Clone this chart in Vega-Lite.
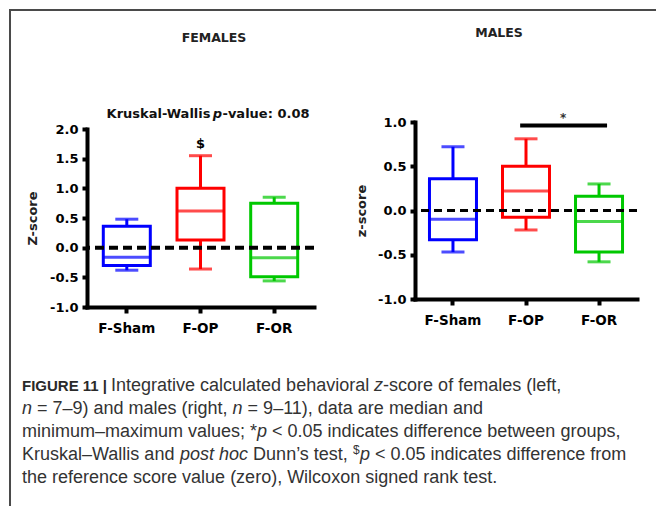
{
  "$schema": "https://vega.github.io/schema/vega-lite/v6.json",
  "padding": {"left": 8, "top": 8, "right": 0, "bottom": 0},
  "background": "white",
  "bounds": "flush",
  "spacing": 101,
  "config": {
    "view": {"stroke": null},
    "axis": {
      "domainColor": "black", "domainWidth": 4, "domainCap": "square",
      "tickColor": "black", "tickWidth": 4, "grid": false, "labelOverlap": false,
      "labelFont": "DejaVu Sans", "labelFontWeight": "bold", "labelColor": "black",
      "titleFont": "DejaVu Sans", "titleFontWeight": "bold", "titleColor": "#222"
    },
    "text": {"font": "Liberation Sans", "fontSize": 18, "color": "#333", "align": "left", "baseline": "middle"}
  },
  "datasets": {
    "females": [
      {"g": "F-Sham", "min": -0.38, "q1": -0.30, "med": -0.16, "q3": 0.36, "max": 0.48},
      {"g": "F-OP", "min": -0.36, "q1": 0.13, "med": 0.62, "q3": 1.0, "max": 1.55},
      {"g": "F-OR", "min": -0.56, "q1": -0.49, "med": -0.17, "q3": 0.75, "max": 0.85}
    ],
    "males": [
      {"g": "F-Sham", "min": -0.47, "q1": -0.33, "med": -0.10, "q3": 0.36, "max": 0.72},
      {"g": "F-OP", "min": -0.22, "q1": -0.075, "med": 0.22, "q3": 0.50, "max": 0.81},
      {"g": "F-OR", "min": -0.58, "q1": -0.47, "med": -0.125, "q3": 0.16, "max": 0.30}
    ]
  },
  "hconcat": [
    {
      "width": 227,
      "height": 185,
      "layer": [
        {
          "data": {"name": "females"},
          "layer": [
            {
              "mark": {"type": "rule", "strokeWidth": 3},
              "encoding": {
                "x": {"field": "g", "type": "nominal", "scale": {"domain": ["F-Sham", "F-OP", "F-OR"], "paddingInner": 0, "paddingOuter": 0.04},
                      "axis": {"title": null, "labelAngle": 0, "tickSize": 6, "labelPadding": 8, "labelFontSize": 13.5}},
                "y": {"field": "min", "type": "quantitative", "scale": {"domain": [-1, 2], "range": [185, 7], "nice": false, "zero": false},
                      "axis": {"title": "Z-score", "values": [-1, -0.5, 0, 0.5, 1, 1.5, 2], "tickCount": 10, "tickSize": 5, "labelPadding": 4, "labelFontSize": 13, "titleFontSize": 13, "titlePadding": 10,
                               "labelExpr": "replace(format(datum.value, '.1f'), '−', '-')"}},
                "y2": {"field": "max"},
                "color": {"field": "g", "type": "nominal", "scale": {"domain": ["F-Sham", "F-OP", "F-OR"], "range": ["#0000ff", "#ff0000", "#00c800"]}, "legend": null}
              }
            },
            {
              "mark": {"type": "bar", "size": 47, "fill": "white", "strokeWidth": 3},
              "encoding": {
                "x": {"field": "g", "type": "nominal"},
                "y": {"field": "q1", "type": "quantitative"},
                "y2": {"field": "q3"},
                "stroke": {"field": "g", "type": "nominal", "scale": {"domain": ["F-Sham", "F-OP", "F-OR"], "range": ["#0000ff", "#ff0000", "#00c800"]}, "legend": null}
              }
            },
            {
              "mark": {"type": "tick", "size": 47, "thickness": 3},
              "encoding": {
                "x": {"field": "g", "type": "nominal"},
                "y": {"field": "med", "type": "quantitative"},
                "color": {"field": "g", "type": "nominal", "legend": null}
              }
            },
            {
              "mark": {"type": "tick", "size": 23, "thickness": 3},
              "encoding": {
                "x": {"field": "g", "type": "nominal"},
                "y": {"field": "min", "type": "quantitative"},
                "color": {"field": "g", "type": "nominal", "legend": null}
              }
            },
            {
              "mark": {"type": "tick", "size": 23, "thickness": 3},
              "encoding": {
                "x": {"field": "g", "type": "nominal"},
                "y": {"field": "max", "type": "quantitative"},
                "color": {"field": "g", "type": "nominal", "legend": null}
              }
            },
            {
              "data": {"values": [{}]},
              "mark": {"type": "rule", "strokeDash": [9, 5], "strokeWidth": 4, "color": "black"},
              "encoding": {"y": {"datum": 0, "type": "quantitative"}}
            },
            {
              "data": {"values": [{}]},
              "mark": {"type": "text", "text": "$", "font": "DejaVu Sans", "fontWeight": "bold", "fontSize": 13, "color": "black", "align": "center"},
              "encoding": {"x": {"datum": "F-OP", "type": "nominal"}, "y": {"datum": 1.74, "type": "quantitative"}}
            },
            {
              "data": {"values": [{}]},
              "mark": {"type": "text", "text": "Kruskal-Wallis", "font": "DejaVu Sans", "fontWeight": "bold", "fontSize": 13, "color": "#111", "align": "right", "dx": 10},
              "encoding": {"x": {"datum": "F-OP", "type": "nominal"}, "y": {"datum": 2.25, "type": "quantitative"}}
            },
            {
              "data": {"values": [{}]},
              "mark": {"type": "text", "text": "p", "font": "DejaVu Sans", "fontWeight": "bold", "fontStyle": "italic", "fontSize": 13, "color": "#111", "align": "center", "dx": 17},
              "encoding": {"x": {"datum": "F-OP", "type": "nominal"}, "y": {"datum": 2.25, "type": "quantitative"}}
            },
            {
              "data": {"values": [{}]},
              "mark": {"type": "text", "text": "-value: 0.08", "font": "DejaVu Sans", "fontWeight": "bold", "fontSize": 13, "color": "#111", "align": "left", "dx": 22},
              "encoding": {"x": {"datum": "F-OP", "type": "nominal"}, "y": {"datum": 2.25, "type": "quantitative"}}
            }
          ]
        },
        {
          "layer": [
            {
              "encoding": {
                "x": {"datum": -0.2863, "type": "quantitative", "scale": {"domain": [0, 1], "nice": false, "zero": false}, "axis": null},
                "y": {"field": "line", "type": "quantitative", "scale": {"domain": [-10.478, -2.435], "reverse": true, "nice": false, "zero": false}, "axis": null},
                "text": {"field": "text"}
              },
              "layer": [
                {"data": {"values": [{"line": 1, "text": "FIGURE 11 |"}]}, "mark": {"type": "text", "fontSize": 15, "fontWeight": "bold", "color": "#2a2a2a"}},
                {"data": {"values": [{"line": 1, "text": "Integrative calculated behavioral"}]}, "mark": {"type": "text", "dx": 89}},
                {"data": {"values": [{"line": 1, "text": "z"}]}, "mark": {"type": "text", "dx": 352.1, "fontStyle": "italic"}},
                {"data": {"values": [{"line": 1, "text": "-score of females (left,"}]}, "mark": {"type": "text", "dx": 361.1}},
                {"data": {"values": [{"line": 3, "text": "minimum–maximum values; *"}, {"line": 4, "text": "Kruskal–Wallis and"}, {"line": 5, "text": "the reference score value (zero), Wilcoxon signed rank test."}]}, "mark": {"type": "text"}},
                {"data": {"values": [{"line": 2, "text": "n"}]}, "mark": {"type": "text", "fontStyle": "italic"}},
                {"data": {"values": [{"line": 2, "text": "= 7–9) and males (right,"}]}, "mark": {"type": "text", "dx": 15.0}},
                {"data": {"values": [{"line": 2, "text": "n"}]}, "mark": {"type": "text", "dx": 210.6, "fontStyle": "italic"}},
                {"data": {"values": [{"line": 2, "text": "= 9–11), data are median and"}]}, "mark": {"type": "text", "dx": 225.6}},
                {"data": {"values": [{"line": 3, "text": "p"}]}, "mark": {"type": "text", "dx": 235.0, "fontStyle": "italic"}},
                {"data": {"values": [{"line": 3, "text": "< 0.05 indicates difference between groups,"}]}, "mark": {"type": "text", "dx": 250.0}},
                {"data": {"values": [{"line": 4, "text": "post hoc"}]}, "mark": {"type": "text", "dx": 158.0, "fontStyle": "italic"}},
                {"data": {"values": [{"line": 4, "text": "Dunn’s test,"}]}, "mark": {"type": "text", "dx": 231.1}},
                {"data": {"values": [{"line": 4, "text": "$"}]}, "mark": {"type": "text", "dx": 331.1, "dy": -5, "fontSize": 12}},
                {"data": {"values": [{"line": 4, "text": "p"}]}, "mark": {"type": "text", "dx": 338.0, "fontStyle": "italic"}},
                {"data": {"values": [{"line": 4, "text": "< 0.05 indicates difference from"}]}, "mark": {"type": "text", "dx": 353.0}}
              ]
            },
            {
              "data": {"values": [{}]},
              "mark": {"type": "text", "text": "FEMALES", "align": "center", "font": "DejaVu Sans", "fontSize": 12.5, "fontWeight": "bold", "color": "#222"},
              "encoding": {
                "x": {"datum": 0.5595, "type": "quantitative"},
                "y": {"datum": -14.13, "type": "quantitative"}
              }
            }
          ]
        }
      ],
      "resolve": {"scale": {"x": "independent", "y": "independent"}}
    },
    {
      "width": 222,
      "height": 177,
      "layer": [
        {
          "data": {"name": "males"},
          "layer": [
            {
              "mark": {"type": "rule", "strokeWidth": 3},
              "encoding": {
                "x": {"field": "g", "type": "nominal", "scale": {"domain": ["F-Sham", "F-OP", "F-OR"], "paddingInner": 0, "paddingOuter": 0.02},
                      "axis": {"title": null, "labelAngle": 0, "tickSize": 6, "labelPadding": 8, "labelFontSize": 13.5}},
                "y": {"field": "min", "type": "quantitative", "scale": {"domain": [-1, 1], "nice": false, "zero": false},
                      "axis": {"title": "z-score", "values": [-1, -0.5, 0, 0.5, 1], "tickCount": 10, "tickSize": 5, "labelPadding": 4, "labelFontSize": 13, "titleFontSize": 13, "titlePadding": 9,
                               "labelExpr": "replace(format(datum.value, '.1f'), '−', '-')"}},
                "y2": {"field": "max"},
                "color": {"field": "g", "type": "nominal", "scale": {"domain": ["F-Sham", "F-OP", "F-OR"], "range": ["#0000ff", "#ff0000", "#00c800"]}, "legend": null}
              }
            },
            {
              "mark": {"type": "bar", "size": 47, "fill": "white", "strokeWidth": 3},
              "encoding": {
                "x": {"field": "g", "type": "nominal"},
                "y": {"field": "q1", "type": "quantitative"},
                "y2": {"field": "q3"},
                "stroke": {"field": "g", "type": "nominal", "scale": {"domain": ["F-Sham", "F-OP", "F-OR"], "range": ["#0000ff", "#ff0000", "#00c800"]}, "legend": null}
              }
            },
            {
              "mark": {"type": "tick", "size": 47, "thickness": 3},
              "encoding": {
                "x": {"field": "g", "type": "nominal"},
                "y": {"field": "med", "type": "quantitative"},
                "color": {"field": "g", "type": "nominal", "legend": null}
              }
            },
            {
              "mark": {"type": "tick", "size": 23, "thickness": 3},
              "encoding": {
                "x": {"field": "g", "type": "nominal"},
                "y": {"field": "min", "type": "quantitative"},
                "color": {"field": "g", "type": "nominal", "legend": null}
              }
            },
            {
              "mark": {"type": "tick", "size": 23, "thickness": 3},
              "encoding": {
                "x": {"field": "g", "type": "nominal"},
                "y": {"field": "max", "type": "quantitative"},
                "color": {"field": "g", "type": "nominal", "legend": null}
              }
            },
            {
              "data": {"values": [{}]},
              "mark": {"type": "rule", "strokeDash": [8, 5], "strokeWidth": 3, "color": "black"},
              "encoding": {"y": {"datum": 0, "type": "quantitative"}}
            },
            {
              "data": {"values": [{}]},
              "mark": {"type": "rule", "strokeWidth": 4, "color": "black"},
              "encoding": {
                "x": {"datum": "F-OP", "type": "nominal", "bandPosition": 0.42},
                "x2": {"datum": "F-OR", "bandPosition": 0.61},
                "y": {"datum": 0.96, "type": "quantitative"}
              }
            },
            {
              "data": {"values": [{}]},
              "mark": {"type": "text", "text": "*", "font": "DejaVu Sans", "fontWeight": "bold", "fontSize": 12, "color": "#333", "align": "center"},
              "encoding": {"x": {"datum": "F-OR", "type": "nominal", "bandPosition": 0.01}, "y": {"datum": 1.04, "type": "quantitative"}}
            }
          ]
        },
        {
          "layer": [
            {
              "data": {"values": [{}]},
              "mark": {"type": "rule", "strokeWidth": 2, "color": "#4a4a4a", "strokeCap": "square"},
              "encoding": {
                "x": {"datum": -1.8243, "type": "quantitative", "scale": {"domain": [0, 1], "nice": false, "zero": false}, "axis": null},
                "x2": {"datum": 1.0811},
                "y": {"datum": 1.6328, "type": "quantitative", "scale": {"domain": [0, 1], "nice": false, "zero": false}, "axis": null}
              }
            },
            {
              "data": {"values": [{}]},
              "mark": {"type": "rule", "strokeWidth": 2, "color": "#4a4a4a", "strokeCap": "square"},
              "encoding": {
                "x": {"datum": -1.8243, "type": "quantitative"},
                "y": {"datum": 1.6328, "type": "quantitative"},
                "y2": {"datum": -1.1638}
              }
            },
            {
              "data": {"values": [{}]},
              "mark": {"type": "text", "text": "MALES", "align": "center", "font": "DejaVu Sans", "fontSize": 12.5, "fontWeight": "bold", "color": "#222"},
              "encoding": {
                "x": {"datum": 0.3784, "type": "quantitative"},
                "y": {"datum": 1.5028, "type": "quantitative"}
              }
            }
          ]
        }
      ],
      "resolve": {"scale": {"x": "independent", "y": "independent"}}
    }
  ]
}
